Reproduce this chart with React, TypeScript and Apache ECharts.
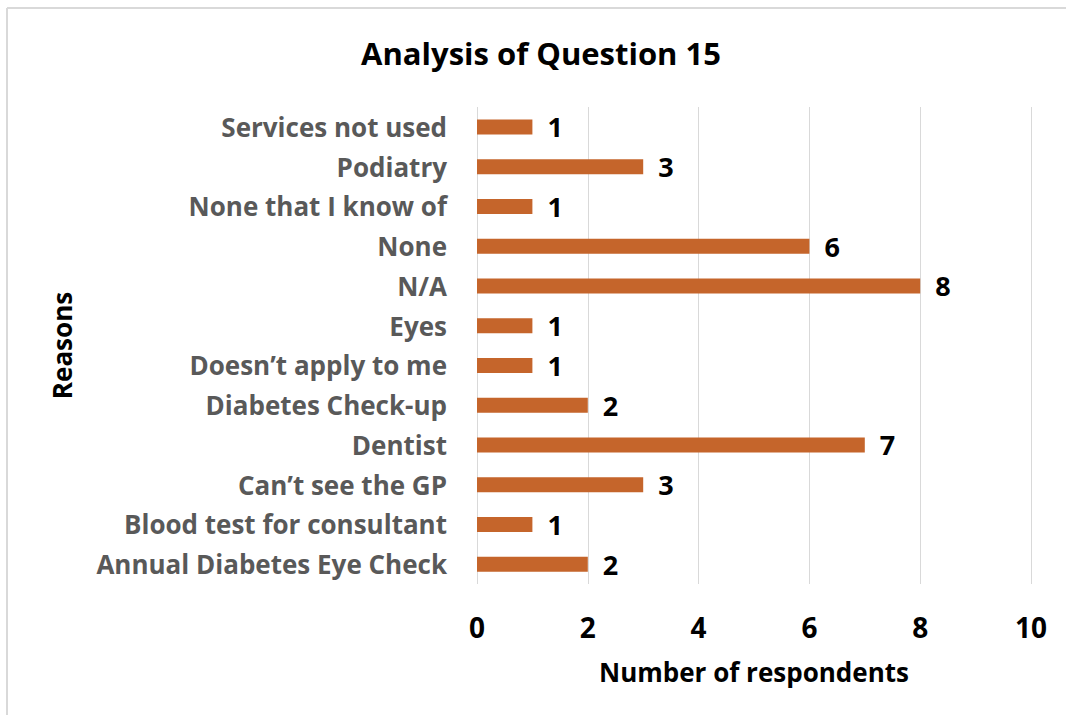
import React, { useEffect, useRef } from "react";
import * as echarts from "echarts";

// Reasons listed from the bottom of the axis to the top
const reasons = [
  "Annual Diabetes Eye Check",
  "Blood test for consultant",
  "Can\u2019t see the GP",
  "Dentist",
  "Diabetes Check-up",
  "Doesn\u2019t apply to me",
  "Eyes",
  "N/A",
  "None",
  "None that I know of",
  "Podiatry",
  "Services not used",
];
const respondents = [2, 1, 3, 7, 2, 1, 1, 8, 6, 1, 3, 1];
const xTicks = { min: 0, max: 10, interval: 2 };

const FONT = "'Open Sans', 'Noto Sans', sans-serif";

export default function App() {
  const ref = useRef<HTMLDivElement>(null);

  useEffect(() => {
    if (!ref.current) return;
    const chart = echarts.init(ref.current, null, { renderer: "svg" });
    chart.setOption({
      animation: false,
      backgroundColor: "#ffffff",
      textStyle: { fontFamily: FONT },
      graphic: [
        {
          type: "line",
          shape: { x1: 7, y1: 8, x2: 1066, y2: 8 },
          style: { stroke: "#d9d9d9", lineWidth: 2 },
        },
        {
          type: "line",
          shape: { x1: 7, y1: 8, x2: 7, y2: 715 },
          style: { stroke: "#d9d9d9", lineWidth: 2 },
        },
        {
          type: "text",
          x: 541,
          y: 53,
          style: {
            text: "Analysis of Question 15",
            fontFamily: FONT,
            fontSize: 31,
            fontWeight: "bold",
            fill: "#000000",
            align: "center",
            verticalAlign: "middle",
          },
        },
      ],
      grid: { left: 477, right: 35, top: 107, bottom: 131 },
      xAxis: {
        type: "value",
        min: xTicks.min,
        max: xTicks.max,
        interval: xTicks.interval,
        name: "Number of respondents",
        nameLocation: "middle",
        nameGap: 75,
        nameTextStyle: {
          fontFamily: FONT,
          fontSize: 26,
          fontWeight: "bold",
          color: "#000000",
        },
        axisLine: { show: false },
        axisTick: { show: false },
        axisLabel: {
          margin: 29,
          fontFamily: FONT,
          fontSize: 28,
          fontWeight: "bold",
          color: "#000000",
        },
        splitLine: { show: true, lineStyle: { color: "#d9d9d9", width: 1 } },
      },
      yAxis: {
        type: "category",
        data: reasons,
        name: "Reasons",
        nameLocation: "middle",
        nameGap: 402,
        nameRotate: 90,
        nameTextStyle: {
          fontFamily: FONT,
          fontSize: 26,
          fontWeight: "bold",
          color: "#000000",
        },
        axisLine: { show: false },
        axisTick: { show: false },
        axisLabel: {
          margin: 30,
          fontFamily: FONT,
          fontSize: 26,
          fontWeight: "bold",
          color: "#595959",
        },
      },
      series: [
        {
          type: "bar",
          data: respondents,
          barWidth: 15,
          itemStyle: { color: "#c5652b" },
          label: {
            show: true,
            position: "right",
            distance: 15,
            fontFamily: FONT,
            fontSize: 27,
            fontWeight: "bold",
            color: "#000000",
          },
        },
      ],
    });
    return () => chart.dispose();
  }, []);

  return (
    <div
      ref={ref}
      style={{ position: "fixed", left: 0, top: 0, width: 1066, height: 715 }}
    />
  );
}
